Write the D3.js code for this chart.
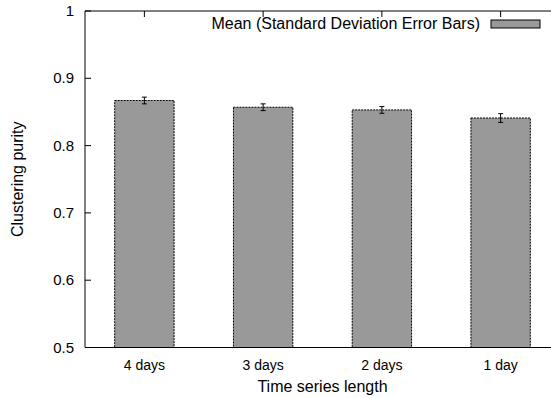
<!DOCTYPE html>
<meta charset="utf-8">
<html>
<body style="margin:0;background:#fff">
<div id="chart"></div>
<script src="https://cdn.jsdelivr.net/npm/d3@7"></script>
<script>
var categories = ["4 days", "3 days", "2 days", "1 day"];
var means = [0.867, 0.857, 0.853, 0.841];
var stdDevs = [0.005, 0.005, 0.005, 0.0065];
var yTicks = [0.5, 0.6, 0.7, 0.8, 0.9, 1];

var W = 551, H = 398;
var svg = d3.select("#chart").append("svg")
  .attr("width", W).attr("height", H)
  .style("font-family", "Liberation Sans, Arial, sans-serif");

// plot runs past the right edge like the original
var x = d3.scaleLinear().domain([-0.5, 3.5]).range([85, 560]);
var y = d3.scaleLinear().domain([0.5, 1]).range([347.5, 11]);
var barW = x(0.25) - x(-0.25);

// bars
svg.selectAll("rect.bar")
  .data(means)
  .enter()
  .append("rect")
  .attr("class", "bar")
  .attr("x", function (d, i) { return x(i) - barW / 2; })
  .attr("y", function (d) { return y(d); })
  .attr("width", barW)
  .attr("height", function (d) { return y(0.5) - y(d); })
  .style("fill", "#999999")
  .style("stroke", "#000")
  .style("stroke-width", 1)
  .style("stroke-dasharray", "2,1");

// error bars
var eb = svg.selectAll("g.err")
  .data(means)
  .enter()
  .append("g")
  .attr("class", "err")
  .style("stroke", "#000")
  .style("stroke-width", 1);
eb.append("line")
  .attr("x1", function (d, i) { return x(i); })
  .attr("x2", function (d, i) { return x(i); })
  .attr("y1", function (d, i) { return y(d - stdDevs[i]); })
  .attr("y2", function (d, i) { return y(d + stdDevs[i]); });
[-1, 1].forEach(function (s) {
  eb.append("line")
    .attr("x1", function (d, i) { return x(i) - 2.5; })
    .attr("x2", function (d, i) { return x(i) + 2.5; })
    .attr("y1", function (d, i) { return y(d + s * stdDevs[i]); })
    .attr("y2", function (d, i) { return y(d + s * stdDevs[i]); });
});

// axes frame (left, bottom, top)
var frame = svg.append("g").style("stroke", "#000").style("stroke-width", 1);
frame.append("line").attr("x1", x(-0.5)).attr("x2", W).attr("y1", y(0.5)).attr("y2", y(0.5));
frame.append("line").attr("x1", x(-0.5)).attr("x2", W).attr("y1", y(1)).attr("y2", y(1));
frame.append("line").attr("x1", x(-0.5)).attr("x2", x(-0.5)).attr("y1", y(0.5)).attr("y2", y(1));

// y ticks
frame.selectAll("line.yt")
  .data(yTicks)
  .enter()
  .append("line")
  .attr("x1", x(-0.5)).attr("x2", x(-0.5) + 6)
  .attr("y1", function (d) { return y(d); })
  .attr("y2", function (d) { return y(d); });
svg.selectAll("text.yl")
  .data(yTicks)
  .enter()
  .append("text")
  .attr("x", 74)
  .attr("y", function (d) { return y(d) + 5; })
  .attr("text-anchor", "end")
  .style("font-size", "15px")
  .text(function (d) { return d === 1 ? "1" : d3.format(".1f")(d); });

// x ticks on top (mirror)
frame.selectAll("line.xt")
  .data(categories)
  .enter()
  .append("line")
  .attr("x1", function (d, i) { return x(i); })
  .attr("x2", function (d, i) { return x(i); })
  .attr("y1", y(1)).attr("y2", y(1) + 6);
svg.selectAll("text.xl")
  .data(categories)
  .enter()
  .append("text")
  .attr("x", function (d, i) { return x(i); })
  .attr("y", 370)
  .attr("text-anchor", "middle")
  .style("font-size", "14px")
  .text(function (d) { return d; });

// axis titles
svg.append("text")
  .attr("x", x(1.5)).attr("y", 392)
  .attr("text-anchor", "middle")
  .style("font-size", "16px")
  .text("Time series length");
svg.append("text")
  .attr("transform", "translate(23," + y(0.75) + ") rotate(-90)")
  .attr("text-anchor", "middle")
  .style("font-size", "16px")
  .text("Clustering purity");

// legend
svg.append("text")
  .attr("x", 480).attr("y", 29)
  .attr("text-anchor", "end")
  .style("font-size", "16px")
  .text("Mean (Standard Deviation Error Bars)");
svg.append("rect")
  .attr("x", 491).attr("y", 20)
  .attr("width", 49).attr("height", 8)
  .style("fill", "#999999")
  .style("stroke", "#000");
</script>
</body>
</html>
